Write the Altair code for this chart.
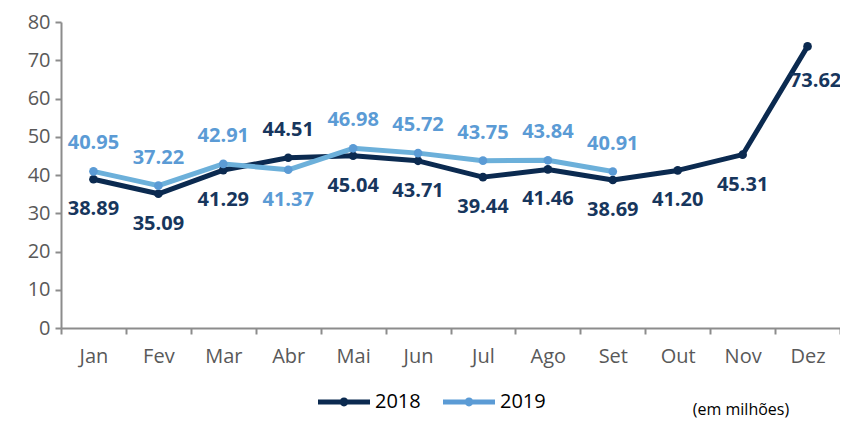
import altair as alt
import pandas as pd

months = ["Jan", "Fev", "Mar", "Abr", "Mai", "Jun", "Jul", "Ago", "Set", "Out", "Nov", "Dez"]
v2018 = [38.89, 35.09, 41.29, 44.51, 45.04, 43.71, 39.44, 41.46, 38.69, 41.20, 45.31, 73.62]
v2019 = [40.95, 37.22, 42.91, 41.37, 46.98, 45.72, 43.75, 43.84, 40.91]
years = ["2018", "2019"]
y_ticks = [0, 10, 20, 30, 40, 50, 60, 70, 80]
note = "(em milhões)"

rows = []
for i, m in enumerate(months):
    a = v2018[i]
    b = v2019[i] if i < len(v2019) else None
    last = i == len(months) - 1
    rows.append({"mes": m, "ano": "2018", "valor": a, "last": last,
                 "pos": "above" if (b is not None and a > b) else "below"})
    if b is not None:
        rows.append({"mes": m, "ano": "2019", "valor": b, "last": False,
                     "pos": "above" if b > a else "below"})
df = pd.DataFrame(rows)
df["rotulo"] = df["valor"].map(lambda v: f"{v:.2f}")

FONT = "Open Sans"
line_colors = ["#0b2a50", "#6cb0da"]
dot_colors = ["#0b2a50", "#5b9bd5"]
label_colors = ["#17365d", "#5b9bd5"]

x_enc = alt.X("mes:N", sort=months, bandPosition=0.5,
              scale=alt.Scale(type="band", paddingInner=0, paddingOuter=0),
              axis=alt.Axis(title=None, tickBand="extent", labelAngle=0,
                            labelPadding=12, tickSize=6, labelFontSize=20))
y_enc = alt.Y("valor:Q", scale=alt.Scale(domain=[0, 80], nice=False),
              axis=alt.Axis(title=None, values=y_ticks, grid=False, tickSize=6,
                            labelPadding=5, labelFontSize=20))

legend_symbol = ("M-1,-0.095H1V0.095H-1Z "
                 "M0.17,0A0.17,0.17 0 1,1 -0.17,0A0.17,0.17 0 1,1 0.17,0Z")

legend_opts = dict(title=None, orient="none", direction="horizontal",
                   legendX=257, legendY=354, padding=0, symbolSize=2704,
                   symbolType=legend_symbol, symbolStrokeWidth=0,
                   labelFontSize=20, labelFont=FONT, labelColor="#000000",
                   labelOffset=5, columnPadding=22)

base = alt.Chart(df).encode(x=x_enc, y=y_enc)

lines = base.mark_line(strokeWidth=5, strokeJoin="round", strokeCap="round").encode(
    stroke=alt.Stroke("ano:N", scale=alt.Scale(domain=years, range=line_colors),
                      legend=alt.Legend(**legend_opts)),
    detail="ano:N",
)

points = base.mark_point(filled=True, size=75, opacity=1).encode(
    fill=alt.Fill("ano:N", scale=alt.Scale(domain=years, range=dot_colors),
                  legend=alt.Legend(**legend_opts)),
)

text_color = alt.Color("ano:N", scale=alt.Scale(domain=years, range=label_colors), legend=None)

labels_above = base.mark_text(font=FONT, fontSize=20, fontWeight="bold", dy=-28).encode(
    text="rotulo:N", color=text_color
).transform_filter(alt.datum.pos == "above")

labels_below = base.mark_text(font=FONT, fontSize=20, fontWeight="bold", dy=30).encode(
    text="rotulo:N", color=text_color
).transform_filter((alt.datum.pos == "below") & (~alt.datum.last))

labels_last = base.mark_text(font=FONT, fontSize=20, fontWeight="bold", dy=35, dx=8).encode(
    text="rotulo:N", color=text_color
).transform_filter(alt.datum.last)

note_layer = alt.Chart(pd.DataFrame({"t": [note]})).mark_text(
    font=FONT, fontSize=16, color="#000000", align="center", baseline="middle"
).encode(text="t:N", x=alt.value(680), y=alt.value(388))

chart = alt.layer(lines, points, labels_above, labels_below, labels_last, note_layer).resolve_scale(
    color="independent"
).properties(
    width=779, height=306,
    autosize=alt.AutoSizeParams(type="none"),
    padding={"left": 53, "top": 14, "right": 0, "bottom": 96},
).configure_view(stroke=None).configure_axis(
    labelFont=FONT, labelColor="#595959", domainColor="#8c8c8c", tickColor="#8c8c8c",
    domainWidth=2, tickWidth=2,
)

chart.save("out.html", embed_options={"renderer": "svg", "actions": False})
